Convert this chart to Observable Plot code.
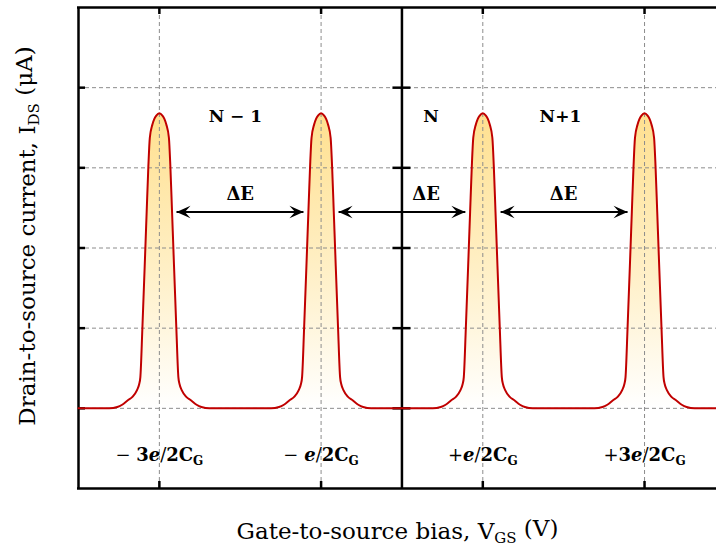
<!DOCTYPE html>
<html>
<head>
<meta charset="utf-8">
<script src="https://cdn.jsdelivr.net/npm/d3@7"></script>
<script src="https://cdn.jsdelivr.net/npm/@observablehq/plot@0.6"></script>
<style>
  html, body { margin: 0; padding: 0; background: #fff; }
  #chart svg { display: block; }
</style>
</head>
<body>
<div id="chart"></div>
<script>
// ---- data ----
const peakCenters = [-1.5, -0.5, 0.5, 1.5];           // V (in units of e/C_G)
// one-sided peak profile (offset from peak centre, current)
const profileDx = [0, 0.019, 0.031, 0.043, 0.059, 0.068, 0.0785, 0.0866, 0.105, 0.1175, 0.125, 0.139, 0.165, 0.195, 0.23, 0.26, 0.31];
const profileY  = [3.68, 3.65, 3.61, 3.54, 3.375, 3.02, 2.45, 2.0, 1.0, 0.39, 0.3, 0.225, 0.145, 0.1, 0.045, 0.016, 0];
const xDomain = [-2, 1.945];
const yDomain = [-1, 5];
const gridX = [-1.5, -0.5, 0.5, 1.5];
const gridY = [0, 1, 2, 3, 4];
const tickLabels = ["− 3e/2C", "− e/2C", "+e/2C", "+3e/2C"];
const tickSub = "G";
const tickLabelY = -0.585;
const levelLabels = ["N − 1", "N", "N+1"];
const levelX = [-1.03, 0.18, 0.98];
const levelY = 3.64;
const deltaLabel = "ΔE";
const deltaX = [-1.0, 0.15, 1.0];
const deltaY = 2.675;
const arrowX1 = [-1.394, -0.392, 0.61];
const arrowX2 = [-0.609, 0.392, 1.395];
const arrowY = 2.45;
const xTitleParts = ["Gate-to-source bias, V", "GS", " (V)"];
const yTitleParts = ["Drain-to-source current, I", "DS", " (μA)"];

// ---- build curve table ----
const curve = [];
curve.push({x: xDomain[0], y: 0, peak: -1});
peakCenters.forEach((c, k) => {
  for (let i = profileDx.length - 1; i > 0; i--) curve.push({x: c - profileDx[i], y: profileY[i], peak: k});
  for (let i = 0; i < profileDx.length; i++) curve.push({x: c + profileDx[i], y: profileY[i], peak: k});
});
curve.push({x: xDomain[1], y: 0, peak: -1});
const peakPts = curve.filter(d => d.peak >= 0);

const serif = "'DejaVu Serif', 'Liberation Serif', serif";
const W = 716, H = 557;
const mL = 78, mT = 7, mB = 69, mR = 0;
const pxX = (W - mL - mR) / (xDomain[1] - xDomain[0]);
const pxY = (H - mT - mB) / (yDomain[1] - yDomain[0]);

// stealth arrow-head symbol, tip at origin pointing right
const stealth = {
  draw(ctx, size) {
    const s = Math.sqrt(size / Math.PI);
    const L = 2.8 * s, Wd = 1.25 * s;
    ctx.moveTo(0, 0);
    ctx.lineTo(-L, -Wd);
    ctx.lineTo(-0.6 * L, 0);
    ctx.lineTo(-L, Wd);
    ctx.closePath();
  }
};

const heads = [
  ...arrowX1.map(x => ({x, y: arrowY, rot: 180})),
  ...arrowX2.map(x => ({x, y: arrowY, rot: 0}))
];
const arrows = arrowX1.map((x1, i) => ({x1, x2: arrowX2[i], y: arrowY}));

const tickLen = 7;
const plot = Plot.plot({
  width: W, height: H,
  marginLeft: mL, marginRight: mR, marginTop: mT, marginBottom: mB,
  x: {domain: xDomain, axis: null},
  y: {domain: yDomain, axis: null},
  style: {fontFamily: serif, background: "#fff"},
  marks: [
    Plot.areaY(peakPts, {x: "x", y: "y", z: "peak", fill: "url(#peakGrad)", curve: "monotone-x"}),
    Plot.ruleX(gridX, {y1: yDomain[0], y2: yDomain[1], stroke: "#8c8c8c", strokeWidth: 1, strokeDasharray: "4,3"}),
    Plot.ruleY(gridY, {x1: xDomain[0], x2: xDomain[1], stroke: "#8c8c8c", strokeWidth: 1, strokeDasharray: "4,3"}),
    // frame
    Plot.ruleX([xDomain[0]], {y1: yDomain[0], y2: yDomain[1], stroke: "#000", strokeWidth: 2.5}),
    Plot.ruleX([0], {y1: yDomain[0], y2: yDomain[1], stroke: "#000", strokeWidth: 2.5}),
    Plot.ruleY([yDomain[0], yDomain[1]], {x1: xDomain[0] - 1 / pxX, x2: xDomain[1], stroke: "#000", strokeWidth: 2.5}),
    // ticks
    Plot.ruleX(gridX, {y1: yDomain[0], y2: yDomain[0] + tickLen / pxY, stroke: "#000", strokeWidth: 2.5}),
    Plot.ruleX(gridX, {y1: yDomain[1], y2: yDomain[1] - tickLen / pxY, stroke: "#000", strokeWidth: 2.5}),
    Plot.ruleY(gridY, {x1: xDomain[0], x2: xDomain[0] + tickLen / pxX, stroke: "#000", strokeWidth: 2.5}),
    Plot.ruleY(gridY, {x1: -9 / pxX, x2: 9 / pxX, stroke: "#000", strokeWidth: 2.5}),
    // red curve
    Plot.line(curve, {x: "x", y: "y", stroke: "#c00000", strokeWidth: 2, curve: "monotone-x"}),
    // arrows
    Plot.link(arrows, {x1: "x1", x2: "x2", y1: "y", y2: "y", stroke: "#000", strokeWidth: 2}),
    Plot.dot(heads, {x: "x", y: "y", rotate: "rot", symbol: stealth, r: 5, fill: "#000", stroke: "none"}),
    // labels
    Plot.text(levelLabels, {x: (d, i) => levelX[i], y: levelY, text: d => d, fontSize: 17, fontWeight: "bold"}),
    Plot.text(deltaX, {x: d => d, y: deltaY, text: () => deltaLabel, fontSize: 18, fontWeight: "bold"}),
    Plot.text(tickLabels, {x: (d, i) => gridX[i], y: tickLabelY, text: d => d, fontSize: 18, fontWeight: "bold", className: "vlab"}),
    Plot.text([xTitleParts.join("")], {frameAnchor: "bottom", dy: 50, fontSize: 23, className: "xtitle"}),
    Plot.text([yTitleParts.join("")], {frameAnchor: "left", textAnchor: "middle", dx: -51, dy: -12, rotate: -90, fontSize: 23, className: "ytitle"})
  ]
});

const svg = d3.select(plot);
const defs = svg.insert("defs", ":first-child");
const grad = defs.append("linearGradient").attr("id", "peakGrad")
  .attr("x1", 0).attr("y1", 0).attr("x2", 0).attr("y2", 1);
grad.append("stop").attr("offset", "0%").attr("stop-color", "#ffe08f");
grad.append("stop").attr("offset", "55%").attr("stop-color", "#fff0c8");
grad.append("stop").attr("offset", "100%").attr("stop-color", "#ffffff");

// rich text: tick labels
svg.selectAll("g.vlab text").each(function () {
  const t = d3.select(this);
  const s = t.text();
  const m = s.match(/^([−+]\s?)(\d?)(e)(\/)(2C)$/);
  if (!m) return;
  t.text(null);
  t.append("tspan").attr("font-weight", "normal").text(m[1]);
  if (m[2]) t.append("tspan").text(m[2]);
  t.append("tspan").attr("font-style", "italic").text(m[3]);
  t.append("tspan").attr("font-weight", "normal").text(m[4]);
  t.append("tspan").text(m[5]);
  t.append("tspan").attr("font-size", 12).attr("dy", "0.35em").text(tickSub);
});
function subTitle(sel, parts) {
  svg.selectAll(sel).each(function () {
    const t = d3.select(this);
    t.text(null);
    t.append("tspan").text(parts[0]);
    t.append("tspan").attr("font-size", 15).attr("dy", "0.3em").text(parts[1]);
    t.append("tspan").attr("dy", "-0.3em").text(parts[2]);
  });
}
subTitle("g.xtitle text", xTitleParts);
subTitle("g.ytitle text", yTitleParts);

document.getElementById("chart").appendChild(plot);
</script>
</body>
</html>
